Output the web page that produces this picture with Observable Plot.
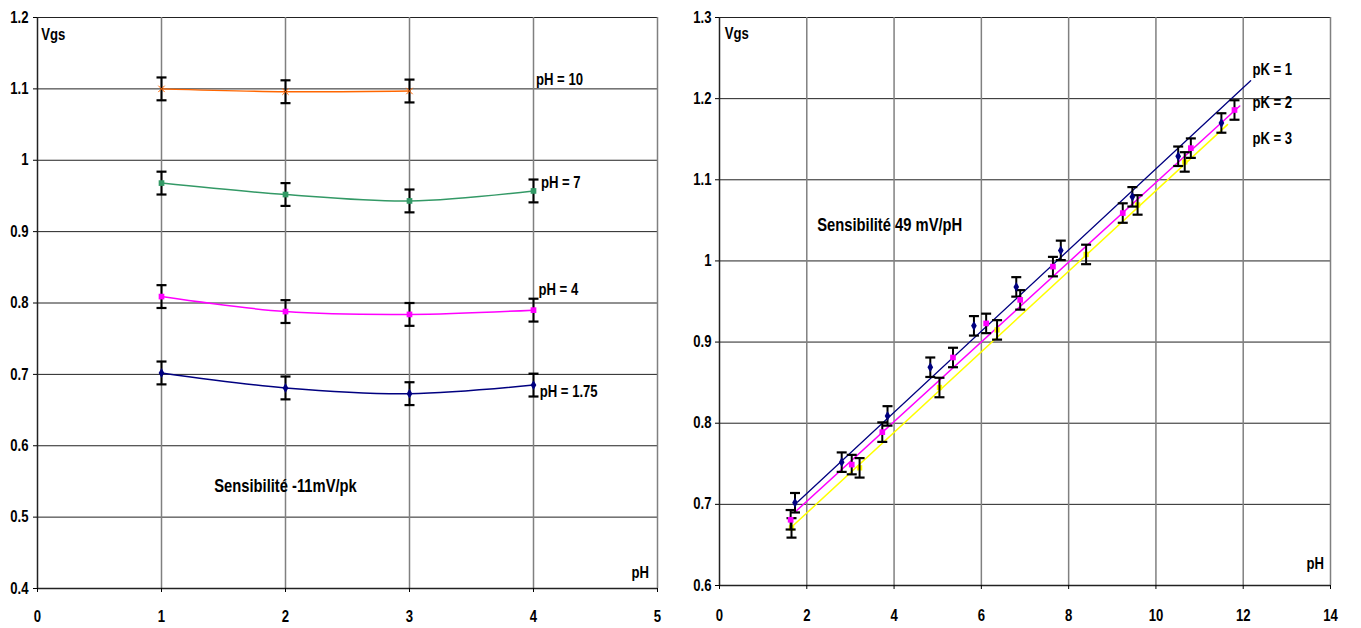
<!DOCTYPE html>
<html><head><meta charset="utf-8">
<script src="https://cdn.jsdelivr.net/npm/d3@7"></script>
<script src="https://cdn.jsdelivr.net/npm/@observablehq/plot@0.6"></script>
<style>
body{margin:0;background:#fff;}
#wrap{display:flex;width:1361px;height:628px;}
</style></head>
<body><div id="wrap"></div>
<script>
// ---------- Left chart data ----------
const leftX = [1, 2, 3, 4];
const ph10 = [1.100, 1.096, 1.097];
const ph7 = [0.968, 0.952, 0.943, 0.957];
const ph4 = [0.809, 0.788, 0.784, 0.790];
const ph175 = [0.702, 0.681, 0.673, 0.685];
const leftErr = 0.016;
const leftXTicks = [0, 1, 2, 3, 4, 5];
const leftYTicks = [0.4, 0.5, 0.6, 0.7, 0.8, 0.9, 1.0, 1.1, 1.2];
const leftLabels = ["pH = 10", "pH = 7", "pH = 4", "pH = 1.75"];
const leftLabelX = [4.02, 4.06, 4.04, 4.05];
const leftLabelY = [1.113, 0.968, 0.818, 0.675];

// ---------- Right chart data ----------
const pk1X = [1.73, 2.80, 3.85, 4.83, 5.83, 6.80, 7.82, 9.46, 10.51, 11.50];
const pk1Y = [0.702, 0.752, 0.809, 0.869, 0.920, 0.968, 1.013, 1.079, 1.129, 1.170];
const pk2X = [1.63, 3.03, 3.73, 5.35, 6.11, 6.89, 7.64, 9.24, 10.80, 11.80];
const pk2Y = [0.681, 0.749, 0.789, 0.881, 0.923, 0.952, 0.993, 1.059, 1.139, 1.186];
const pk3X = [1.65, 3.21, 5.04, 6.36, 8.40, 9.58, 10.66];
const pk3Y = [0.671, 0.745, 0.844, 0.915, 1.008, 1.069, 1.122];
const pk1FitX = [1.79, 12.17], pk1FitY = [0.703, 1.222];
const pk2FitX = [1.72, 11.92], pk2FitY = [0.690, 1.191];
const pk3FitX = [1.67, 11.64], pk3FitY = [0.673, 1.168];
const rightErr = 0.012;
const rightXTicks = [0, 2, 4, 6, 8, 10, 12, 14];
const rightYTicks = [0.6, 0.7, 0.8, 0.9, 1.0, 1.1, 1.2, 1.3];
const rightLabels = ["pK = 1", "pK = 2", "pK = 3"];
const rightLabelY = [1.235, 1.195, 1.151];

// ---------- helpers ----------
const fam = '"Liberation Sans Narrow","Arial Narrow","Liberation Sans",Arial,sans-serif';
const fmt = d => String(+d.toFixed(1));
const cap = {draw(ctx, size) { const r = Math.sqrt(size / Math.PI); ctx.moveTo(-r, 0); ctx.lineTo(r, 0); }};
const zip = (xs, ys, s) => xs.map((x, i) => ({x, y: ys[i], s}));
const txt = {fontFamily: fam, fontWeight: "bold", fontSize: 16, fill: "black"};

function errorBars(rows, err) {
  return [
    Plot.ruleX(rows, {x: "x", y1: d => d.y - err, y2: d => d.y + err, stroke: "black", strokeWidth: 2}),
    Plot.dot(rows, {x: "x", y: d => d.y + err, symbol: cap, r: 5, stroke: "black", strokeWidth: 2.2}),
    Plot.dot(rows, {x: "x", y: d => d.y - err, symbol: cap, r: 5, stroke: "black", strokeWidth: 2.2})
  ];
}

function frame(xTicks, yTicks) {
  return [
    Plot.ruleY(yTicks, {stroke: "#222", strokeWidth: 1}),
    Plot.ruleX(xTicks.slice(1), {stroke: "#808080", strokeWidth: 1.5}),
    Plot.ruleX([xTicks[0]], {stroke: "#222", strokeWidth: 1.5}),
    Plot.ruleY([yTicks[0]], {stroke: "#222", strokeWidth: 1.5})
  ];
}

// narrow the lettering, like Arial Narrow, keeping each anchor in place
function narrow(svg) {
  svg.querySelectorAll("text").forEach(t => {
    const tr = t.getAttribute("transform") || "";
    t.setAttribute("transform", tr + " scale(0.82,1)");
  });
  return svg;
}

// ---------- Left chart ----------
const L10 = zip(leftX.slice(0, 3), ph10, "10");
const L7 = zip(leftX, ph7, "7");
const L4 = zip(leftX, ph4, "4");
const L175 = zip(leftX, ph175, "1.75");

const left = Plot.plot({
  width: 680, height: 628,
  marginLeft: 37, marginRight: 23, marginTop: 17, marginBottom: 40,
  style: {fontFamily: fam, fontWeight: "bold", fontSize: "16px", color: "black", background: "white"},
  x: {domain: [0, 5]},
  y: {domain: [0.4, 1.2]},
  marks: [
    ...frame(leftXTicks, leftYTicks),
    Plot.axisX({ticks: leftXTicks, tickSize: 4, tickPadding: 18, tickFormat: d => d, label: null}),
    Plot.axisY({ticks: leftYTicks, tickSize: 4, tickPadding: 5, tickFormat: fmt, label: null}),
    Plot.line(L10, {x: "x", y: "y", stroke: "#ff6600", strokeWidth: 1.5, curve: "catmull-rom"}),
    Plot.line(L7, {x: "x", y: "y", stroke: "#339966", strokeWidth: 1.5, curve: "catmull-rom"}),
    Plot.line(L4, {x: "x", y: "y", stroke: "#ff00ff", strokeWidth: 1.5, curve: "catmull-rom"}),
    Plot.line(L175, {x: "x", y: "y", stroke: "#000080", strokeWidth: 1.5, curve: "catmull-rom"}),
    ...errorBars([...L10, ...L7, ...L4, ...L175], leftErr),
    Plot.dot(L10, {x: "x", y: "y", symbol: "times", r: 3, stroke: "#ff6600", strokeWidth: 1}),
    Plot.dot(L7, {x: "x", y: "y", symbol: "square", r: 3.2, fill: "#339966"}),
    Plot.dot(L4, {x: "x", y: "y", symbol: "square", r: 3.2, fill: "#ff00ff"}),
    Plot.dot(L175, {x: "x", y: "y", symbol: "diamond", r: 3, fill: "#000080"}),
    Plot.text(leftLabels, {x: (d, i) => leftLabelX[i], y: (d, i) => leftLabelY[i], text: d => d, textAnchor: "start", ...txt}),
    Plot.text(["Vgs"], {x: 0.03, y: 1.176, text: d => d, textAnchor: "start", ...txt}),
    Plot.text(["Sensibilité -11mV/pk"], {x: 2.0, y: 0.543, text: d => d, ...txt, fontSize: 18}),
    Plot.text(["pH"], {x: 4.86, y: 0.422, text: d => d, ...txt})
  ]
});

// ---------- Right chart ----------
const R1 = zip(pk1X, pk1Y, "1");
const R2 = zip(pk2X, pk2Y, "2");
const R3 = zip(pk3X, pk3Y, "3");

const right = Plot.plot({
  width: 681, height: 628,
  marginLeft: 39, marginRight: 31, marginTop: 17, marginBottom: 43,
  style: {fontFamily: fam, fontWeight: "bold", fontSize: "16px", color: "black", background: "white"},
  x: {domain: [0, 14]},
  y: {domain: [0.6, 1.3]},
  marks: [
    ...frame(rightXTicks, rightYTicks),
    Plot.axisX({ticks: rightXTicks, tickSize: 4, tickPadding: 20, tickFormat: d => d, label: null}),
    Plot.axisY({ticks: rightYTicks, tickSize: 4, tickPadding: 4, tickFormat: fmt, label: null}),
    Plot.line(zip(pk1FitX, pk1FitY), {x: "x", y: "y", stroke: "#000080", strokeWidth: 1.3}),
    Plot.line(zip(pk2FitX, pk2FitY), {x: "x", y: "y", stroke: "#ff00ff", strokeWidth: 1.5}),
    Plot.line(zip(pk3FitX, pk3FitY), {x: "x", y: "y", stroke: "#ffff00", strokeWidth: 1.5}),
    Plot.dot(R3, {x: "x", y: "y", symbol: "square", r: 3, fill: "#ffff00"}),
    ...errorBars([...R1, ...R2, ...R3], rightErr),
    Plot.dot(R1, {x: "x", y: "y", symbol: "diamond", r: 3, fill: "#000080"}),
    Plot.dot(R2, {x: "x", y: "y", symbol: "square", r: 3.2, fill: "#ff00ff"}),
    Plot.text(rightLabels, {x: 12.21, y: (d, i) => rightLabelY[i], text: d => d, textAnchor: "start", ...txt}),
    Plot.text(["Vgs"], {x: 0.12, y: 1.28, text: d => d, textAnchor: "start", ...txt}),
    Plot.text(["Sensibilité 49 mV/pH"], {x: 3.9, y: 1.044, text: d => d, ...txt, fontSize: 18}),
    Plot.text(["pH"], {x: 13.65, y: 0.627, text: d => d, ...txt})
  ]
});

document.getElementById("wrap").append(narrow(left), narrow(right));
</script>
</body></html>
